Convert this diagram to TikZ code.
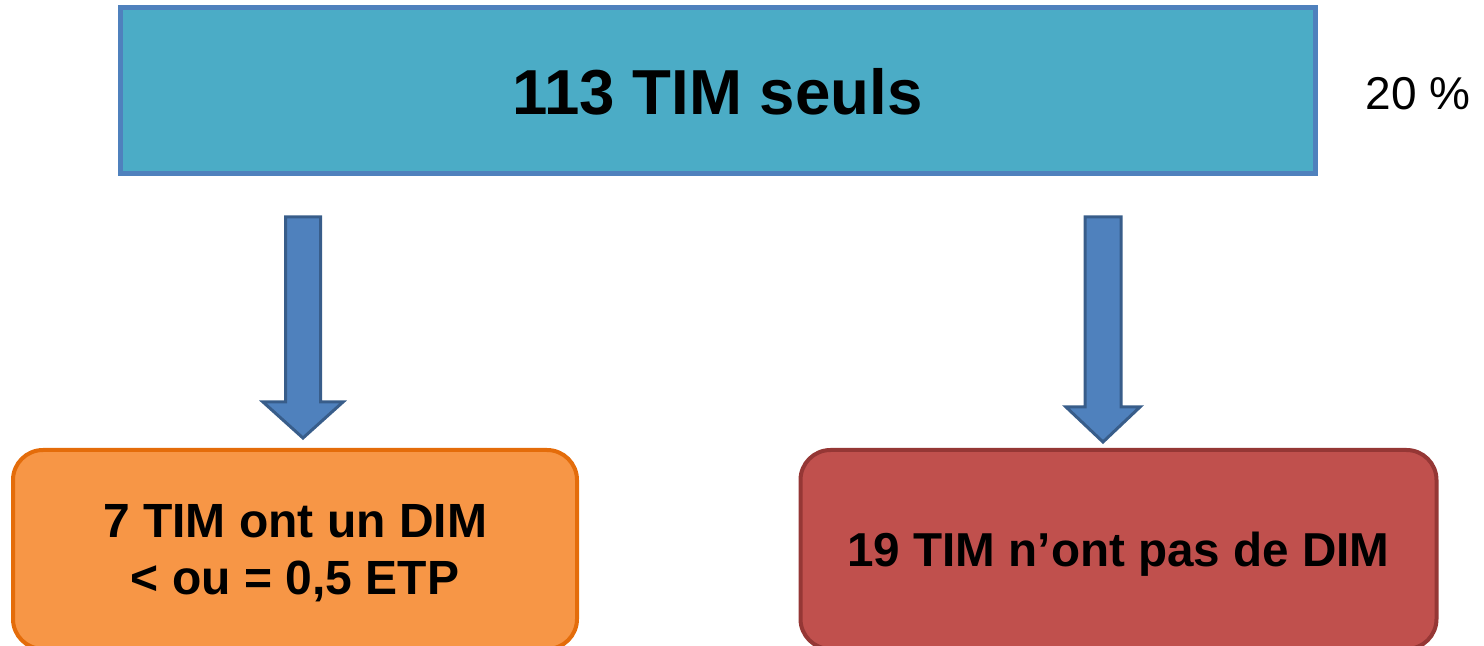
\documentclass[tikz,border=0pt]{standalone}
\usepackage{fontspec}
\setmainfont{Liberation Sans}
\definecolor{topfill}{HTML}{4BACC6}
\definecolor{topline}{HTML}{4F81BD}
\definecolor{orfill}{HTML}{F79646}
\definecolor{orline}{HTML}{E46C0A}
\definecolor{redfill}{HTML}{C0504D}
\definecolor{redline}{HTML}{953735}
\definecolor{arrfill}{HTML}{4F81BD}
\definecolor{arrline}{HTML}{385D8A}
\tikzset{
  box/.style={draw, align=center, text depth=0pt, inner sep=0pt},
  bigarrow/.style={draw=arrline, fill=arrfill, line width=1.5pt, line join=miter},
}
\begin{document}
\begin{tikzpicture}[x=0.5pt, y=-0.5pt]
    \useasboundingbox (0, 0) rectangle (1484, 646);

    \node[box, fill=topfill, draw=topline, line width=2.5pt, minimum width=597.5pt, minimum height=83pt,
          font=\bfseries\fontsize{31.8}{38}\selectfont] (seuls) at (717.5, 91) {113 TIM seuls};
    \node[text depth=0pt, inner sep=0pt, font=\fontsize{23}{28}\selectfont] (pct) at (1418, 93.5) {20 \%};

    \node[box, fill=orfill, draw=orline, line width=2pt, rounded corners=15pt, minimum width=282pt, minimum height=99.5pt,
          font=\bfseries\fontsize{24}{28.5}\selectfont] (avec) at (295, 549.5) {7 TIM ont un DIM\\< ou = 0,5 ETP};
    \node[box, fill=redfill, draw=redline, line width=2pt, rounded corners=15pt, minimum width=318pt, minimum height=99.5pt,
          font=\bfseries\fontsize{23.8}{28.5}\selectfont] (sans) at (1118.5, 549.5) {19 TIM n’ont pas de DIM};

    % block arrows
    \coordinate (tipA) at (303, 438);
    \coordinate (tipB) at (1103, 442);
    \draw[bigarrow] (tipA) -- ++(-40, -36) -- ++(22.5, 0) -- ++(0, -185) -- ++(35, 0) -- ++(0, 185) -- ++(22.5, 0) -- cycle;
    \draw[bigarrow] (tipB) -- ++(-37, -35) -- ++(19, 0) -- ++(0, -190) -- ++(36, 0) -- ++(0, 190) -- ++(19, 0) -- cycle;
\end{tikzpicture}
\end{document}
